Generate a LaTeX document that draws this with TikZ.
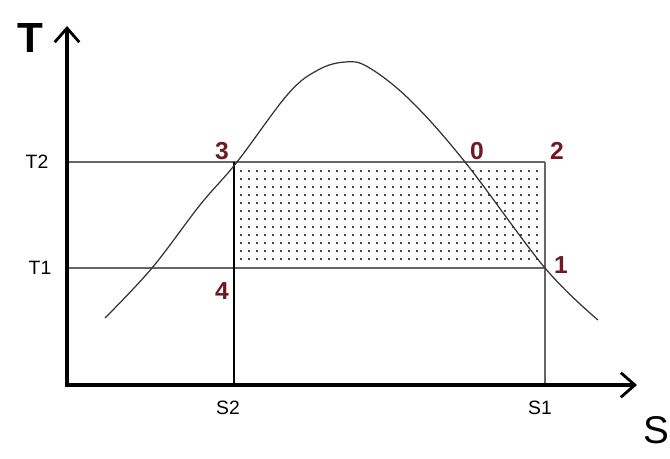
\documentclass[tikz,border=0pt]{standalone}
\usepackage{fontspec}
\setmainfont{Liberation Sans}
\usetikzlibrary{arrows.meta}
\definecolor{rossoscuro}{RGB}{110,25,35}
\tikzset{
    puntoetichetta/.style={text=rossoscuro, font=\bfseries\fontsize{14}{14}\selectfont, inner sep=0pt},
    assetichetta/.style={font=\fontsize{11}{11}\selectfont, inner sep=0pt},
    linealivello/.style={gray!80!black, line width=1.1pt}
}
\begin{document}
\begin{tikzpicture}[x=0.02cm, y=-0.02cm, line cap=butt, line join=round]
    \useasboundingbox (0,0) rectangle (670,458);

    % Punti del ciclo
    \coordinate (O) at (67,385);
    \coordinate (Ytip) at (67,26);
    \coordinate (Xtip) at (637,385);
    \coordinate (p3) at (234,162);
    \coordinate (p4) at (234,268);
    \coordinate (p2) at (545,162);
    \coordinate (p1) at (545,268);
    \coordinate (t2) at (67,162);
    \coordinate (t1) at (67,268);
    \coordinate (s2) at (234,385);
    \coordinate (s1) at (545,385);

    % Area punteggiata
    \foreach \x in {240,248,...,540}
        \foreach \y in {170,178,...,262}
            \fill[gray!60!black] (\x,\y) rectangle +(2.2,2.2);

    % Linee di livello
    \draw[linealivello] (t2) -- (p2);
    \draw[linealivello] (t1) -- (p1);
    \draw[linealivello] (p2) -- (s1);
    \draw[black, line width=1.2pt] (p3) -- (s2);

    % Curva a campana
    \draw[gray!40!black, line width=0.7pt] plot[smooth, tension=0.6] coordinates {(105,318) (152,268) (200,205) (237,162) (288,94) (318,70) (345,62) (368,67) (410,100) (465,162) (545,268) (598,320)};

    % Assi
    \draw[line width=2.4pt, -{Straight Barb[length=8pt, width=14pt, line width=1.6pt]}] (O) -- (Ytip);
    \draw[line width=2.4pt, -{Straight Barb[length=8pt, width=14pt, line width=1.6pt]}] ([xshift=-1.2pt]O) -- (Xtip);

    % Etichette degli assi
    \node[font=\bfseries\fontsize{24}{24}\selectfont, inner sep=0pt] (labT) at (30,38) {T};
    \node[font=\fontsize{22}{22}\selectfont, inner sep=0pt] (labS) at (656,430) {S};
    \node[assetichetta] (labT2) at (37,162) {T2};
    \node[assetichetta] (labT1) at (40,268) {T1};
    \node[assetichetta] (labS2) at (228,408) {S2};
    \node[assetichetta] (labS1) at (540,408) {S1};

    % Etichette dei punti
    \node[puntoetichetta] (lab3) at (222,151) {3};
    \node[puntoetichetta] (lab4) at (222,291) {4};
    \node[puntoetichetta] (lab0) at (477,151) {0};
    \node[puntoetichetta] (lab2) at (557,151) {2};
    \node[puntoetichetta] (lab1) at (561,265) {1};
\end{tikzpicture}
\end{document}
